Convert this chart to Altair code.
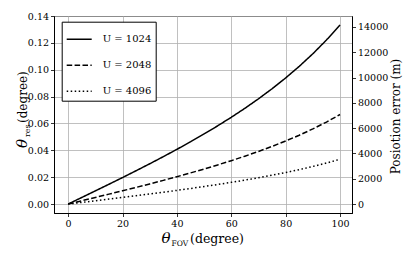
import altair as alt
import pandas as pd

# ---- data ----
fov = [0, 5, 10, 15, 20, 25, 30, 35, 40, 45, 50, 55, 60, 65, 70, 75, 80, 85, 90, 95, 100]
res_1024 = [0, 0.00489, 0.00979, 0.01473, 0.01973, 0.02481, 0.02999, 0.03528, 0.04073, 0.04635,
            0.05218, 0.05826, 0.06461, 0.07129, 0.07836, 0.08587, 0.09390, 0.10254, 0.11191, 0.12212, 0.13336]
res_2048 = [0, 0.00244, 0.00490, 0.00737, 0.00987, 0.01240, 0.01499, 0.01764, 0.02037, 0.02318,
            0.02609, 0.02913, 0.03230, 0.03565, 0.03918, 0.04293, 0.04695, 0.05127, 0.05595, 0.06106, 0.06668]
res_4096 = [0, 0.00122, 0.00245, 0.00368, 0.00493, 0.00620, 0.00750, 0.00882, 0.01018, 0.01159,
            0.01305, 0.01456, 0.01615, 0.01782, 0.01959, 0.02147, 0.02348, 0.02564, 0.02798, 0.03053, 0.03334]
series = ["U = 1024", "U = 2048", "U = 4096"]
x_ticks = [0, 20, 40, 60, 80, 100]
left_ticks = [0.0, 0.02, 0.04, 0.06, 0.08, 0.10, 0.12, 0.14]
right_ticks = [0, 2000, 4000, 6000, 8000, 10000, 12000, 14000]

rows = []
for name, vals in zip(series, [res_1024, res_2048, res_4096]):
    for f, v in zip(fov, vals):
        rows.append({"fov": f, "res": v, "series": name})
df = pd.DataFrame(rows)

SERIF = "DejaVu Serif"

lines = alt.Chart(df).mark_line(color="black", strokeWidth=1.5).encode(
    x=alt.X("fov:Q",
            scale=alt.Scale(domain=[-5.2, 104.4], nice=False, zero=False),
            axis=alt.Axis(values=x_ticks, format="d", title=None, grid=True)),
    y=alt.Y("res:Q",
            scale=alt.Scale(domain=[-0.00667, 0.14003], nice=False, zero=False),
            axis=alt.Axis(values=left_ticks, format=".2f", title=None, grid=True, orient="left")),
    strokeDash=alt.StrokeDash(
        "series:N",
        scale=alt.Scale(domain=series, range=[[1, 0], [5.5, 2.4], [1.5, 2.5]]),
        legend=alt.Legend(
            title=None, orient="none", legendX=7.7, legendY=5.7,
            symbolType="stroke", symbolSize=625, symbolStrokeWidth=1.5,
            symbolStrokeColor="black", labelFont=SERIF, labelFontSize=10,
            labelColor="black", labelOffset=10, rowPadding=7, padding=4,
            strokeColor="black", fillColor="white", cornerRadius=0,
        ),
    ),
    detail="series:N",
)

right = alt.Chart(pd.DataFrame({"pe": right_ticks})).mark_point(opacity=0).encode(
    x=alt.value(0),
    y=alt.Y("pe:Q",
            scale=alt.Scale(domain=[-708, 14868], nice=False, zero=False),
            axis=alt.Axis(orient="right", values=right_ticks, format="d",
                          title="Posiotion error (m)", titleAngle=270, grid=False,
                          titleFont=SERIF, titleFontSize=12, titleFontWeight="normal",
                          titleColor="black", titleX=43, titleY=100,
                          titleAlign="center", titleBaseline="middle")),
)


def txt(s, x, y, size, style="normal", angle=0):
    return alt.Chart(pd.DataFrame({"t": [s]})).mark_text(
        font=SERIF, fontSize=size, fontStyle=style, color="black",
        align="left", baseline="alphabetic", angle=angle,
    ).encode(text="t:N", x=alt.value(x), y=alt.value(y))


titles = [
    # x axis title
    txt("θ", 107.5, 227, 15, "italic"),
    txt("FOV", 117.5, 230, 7.5),
    txt("(degree)", 136, 227, 12.5),
    # left axis title (rotated)
    txt("θ", -27, 132, 15, "italic", 270),
    txt("res", -24, 121, 8, "normal", 270),
    txt("(degree)", -27, 107, 12, "normal", 270),
]

left_layer = alt.layer(lines, *titles)

chart = alt.layer(left_layer, right).resolve_scale(
    y="independent", x="shared", strokeDash="independent"
).properties(
    width=298, height=197,
    autosize=alt.AutoSizeParams(type="none"),
    padding={"left": 46, "top": 8, "right": 55, "bottom": 38},
).configure_view(
    stroke="black", strokeWidth=1
).configure_axis(
    labelFont=SERIF, labelFontSize=9.5, labelColor="black",
    tickColor="black", tickSize=3.5, tickWidth=0.8,
    domainColor="black", domainWidth=1,
    gridColor="#b0b0b0", gridWidth=0.8, labelPadding=2,
)

chart.save("out.html", embed_options={"renderer": "svg", "actions": False})
